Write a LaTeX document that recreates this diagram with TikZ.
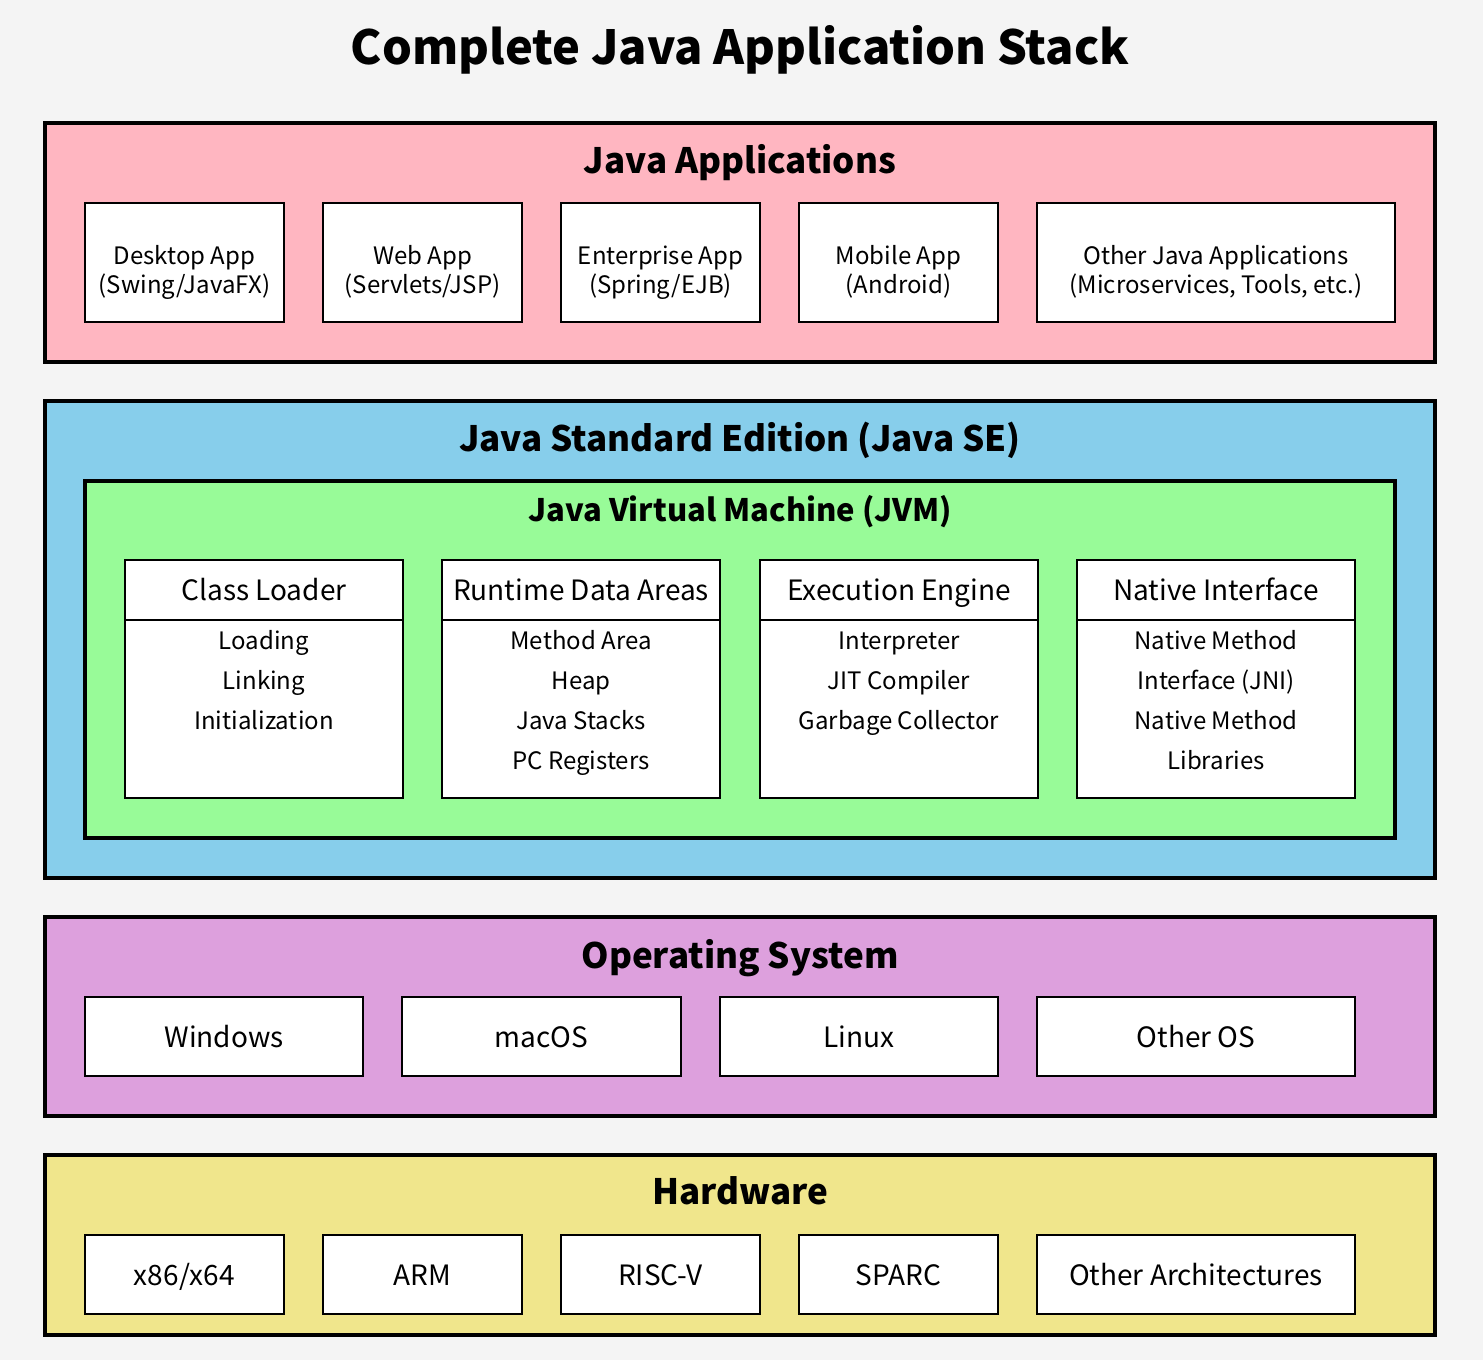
\documentclass[tikz,border=0pt]{standalone}
\usepackage{fontspec}
\setmainfont{Noto Sans CJK SC}
\usetikzlibrary{positioning}
\definecolor{bgcol}{HTML}{F4F4F4}
\definecolor{appcol}{HTML}{FFB6C1}
\definecolor{secol}{HTML}{87CEEB}
\definecolor{jvmcol}{HTML}{98FB98}
\definecolor{oscol}{HTML}{DDA0DD}
\definecolor{hwcol}{HTML}{F0E68C}
% struts that fix the height of a first line
\newcommand{\appstrut}{\rule{0pt}{38pt}}
\newcommand{\itemstrut}{\rule{0pt}{24pt}}

\begin{document}
\begin{tikzpicture}[x=1pt, y=-1pt,
  layer/.style={draw, line width=4pt, minimum width=1390pt, inner sep=0pt},
  ltitle/.style={anchor=base, font=\fontsize{35}{40}\bfseries\selectfont, inner sep=0pt},
  appbox/.style={draw, fill=white, line width=2pt, inner sep=0pt, align=center,
    minimum height=119pt, font=\fontsize{24}{29}\selectfont},
  rowbox/.style={draw, fill=white, line width=2pt, inner sep=0pt,
    text height=22pt, text depth=0pt,
    minimum height=79pt, font=\fontsize{28}{32}\selectfont},
  compbox/.style={draw, fill=white, line width=2pt, inner sep=0pt,
    minimum width=278pt, minimum height=238pt},
  comphead/.style={draw, line width=2pt, inner sep=0pt, anchor=north,
    text height=22pt, text depth=2pt,
    minimum width=278pt, minimum height=60pt, font=\fontsize{28}{32}\selectfont},
  compitems/.style={anchor=north, inner sep=0pt, align=center,
    font=\fontsize{24}{40}\selectfont}]
\fill[bgcol] (0,0) rectangle (1483,1360);
\useasboundingbox (0,0) rectangle (1483,1360);

\node[anchor=base, inner sep=0pt, font=\fontsize{47}{52}\bfseries\selectfont] (title) at (740,64) {Complete Java Application Stack};

% Java applications
\node[layer, fill=appcol, minimum height=239pt] (apps) at (740,242.5) {};
\node[ltitle] (appstitle) at (740,173) {Java Applications};
\node[appbox, minimum width=199pt] (desk) at (184.5,262.5) {\appstrut Desktop App\\(Swing/JavaFX)};
\node[appbox, minimum width=199pt] (web) at (422.5,262.5) {\appstrut Web App\\(Servlets/JSP)};
\node[appbox, minimum width=199pt] (ent) at (660.5,262.5) {\appstrut Enterprise App\\(Spring/EJB)};
\node[appbox, minimum width=199pt] (mob) at (898.5,262.5) {\appstrut Mobile App\\(Android)};
\node[appbox, minimum width=358pt] (otherapp) at (1216,262.5) {\appstrut Other Java Applications\\(Microservices, Tools, etc.)};

% Java SE and JVM
\node[layer, fill=secol, minimum height=477pt] (se) at (740,639.5) {};
\node[ltitle] (setitle) at (740,451) {Java Standard Edition (Java SE)};
\node[draw, line width=4pt, fill=jvmcol, minimum width=1310pt, minimum height=357pt, inner sep=0pt] (jvm) at (740,659.5) {};
\node[anchor=base, font=\fontsize{31}{36}\bfseries\selectfont, inner sep=0pt] (jvmtitle) at (740,521) {Java Virtual Machine (JVM)};

\node[compbox] (cl) at (264,679) {};
\node[comphead] (clh) at (cl.north) {Class Loader};
\node[compitems] (cli) at ([yshift=-4pt]clh.south) {\itemstrut Loading\\Linking\\Initialization};

\node[compbox] (rda) at (581,679) {};
\node[comphead] (rdah) at (rda.north) {Runtime Data Areas};
\node[compitems] (rdai) at ([yshift=-4pt]rdah.south) {\itemstrut Method Area\\Heap\\Java Stacks\\PC Registers};

\node[compbox] (ee) at (899,679) {};
\node[comphead] (eeh) at (ee.north) {Execution Engine};
\node[compitems] (eei) at ([yshift=-4pt]eeh.south) {\itemstrut Interpreter\\JIT Compiler\\Garbage Collector};

\node[compbox] (ni) at (1216,679) {};
\node[comphead] (nih) at (ni.north) {Native Interface};
\node[compitems] (nii) at ([yshift=-4pt]nih.south) {\itemstrut Native Method\\Interface (JNI)\\Native Method\\Libraries};

% Operating system
\node[layer, fill=oscol, minimum height=199pt] (os) at (740,1016.5) {};
\node[ltitle] (ostitle) at (740,968) {Operating System};
\node[rowbox, minimum width=278pt] (win) at (224,1036.5) {Windows};
\node[rowbox, minimum width=279pt] (mac) at (541.5,1036.5) {macOS};
\node[rowbox, minimum width=278pt] (lin) at (859,1036.5) {Linux};
\node[rowbox, minimum width=318pt] (otheros) at (1196,1036.5) {Other OS};

% Hardware
\node[layer, fill=hwcol, minimum height=180pt] (hw) at (740,1245) {};
\node[ltitle] (hwtitle) at (740,1204) {Hardware};
\node[rowbox, minimum width=199pt] (x86) at (184.5,1274.5) {x86/x64};
\node[rowbox, minimum width=199pt] (arm) at (422.5,1274.5) {ARM};
\node[rowbox, minimum width=199pt] (risc) at (660.5,1274.5) {RISC-V};
\node[rowbox, minimum width=199pt] (sparc) at (898.5,1274.5) {SPARC};
\node[rowbox, minimum width=318pt] (otherarch) at (1196,1274.5) {Other Architectures};
\end{tikzpicture}
\end{document}
